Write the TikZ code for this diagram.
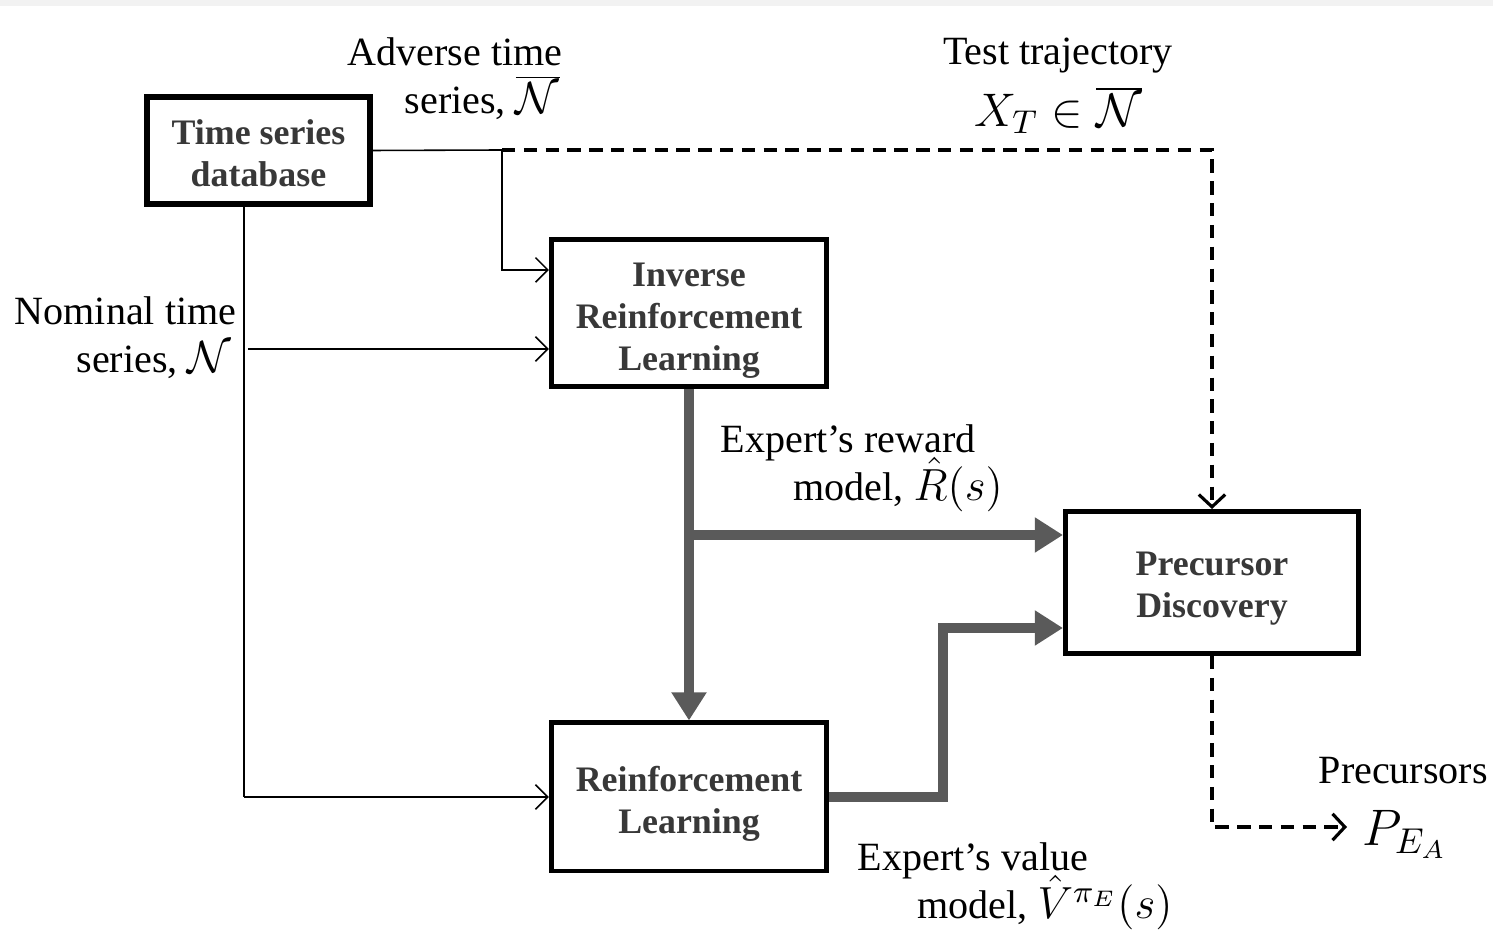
\RequirePackage{fix-cm}
\documentclass[tikz,border=0pt]{standalone}
\usepackage{fontspec}
\setmainfont{Liberation Serif}
\usetikzlibrary{arrows.meta,calc}
\definecolor{thickgray}{HTML}{5A5A5A}
\definecolor{boxtext}{HTML}{383838}
\definecolor{topband}{HTML}{F2F2F2}
\newcommand{\lmath}[1]{{\fontsize{12.8}{13.6}\selectfont\smash{$#1$}}}
\newcommand{\topstrut}[1][11pt]{\rule{0pt}{#1}}
\begin{document}
\begin{tikzpicture}[x=0.01cm,y=-0.01cm,
  box/.style={draw=black, line width=1.4pt, fill=white, inner sep=0pt, align=center,
    font=\fontsize{10.2}{11.9}\selectfont\bfseries, text=boxtext},
  lab/.style={inner sep=0pt, align=left, font=\fontsize{11.4}{13.6}\selectfont},
  feedline/.style={line width=0.45pt},
  feed/.style={line width=0.45pt, -{Straight Barb[length=3.5pt,width=7pt]}},
  dashline/.style={line width=0.9pt, dash pattern=on 3.8pt off 2.4pt,
    -{Straight Barb[length=3.5pt,width=7.5pt,line width=0.9pt]}},
  flow/.style={draw=thickgray, line width=2.9pt, -{Triangle[length=8pt,width=9.5pt]}}]
\useasboundingbox (0,0) rectangle (1493,934);
\fill[topband] (0,0) rectangle (1493,6);
% boxes
\node[box, line width=1.7pt, minimum width=2.22cm, minimum height=1.06cm] (tsdb) at (258.5,150.5) {\topstrut[8.8pt]Time series\\database};
\node[box, minimum width=2.75cm, minimum height=1.47cm] (irl) at (689,313) {\topstrut Inverse\\Reinforcement\\Learning};
\node[box, minimum width=2.75cm, minimum height=1.48cm] (rl) at (689,797) {\topstrut Reinforcement\\Learning};
\node[box, minimum width=2.93cm, minimum height=1.42cm] (pd) at (1212,582.5) {\topstrut[10pt]Precursor\\Discovery};
% junction coordinates
\coordinate (j1) at (502,150);
\coordinate (j2) at (244,797);
\coordinate (n0) at (248,349);
\coordinate (j3) at (689,535);
\coordinate (k) at (943,628);
\coordinate (pout) at (1347,827);
% thin connectors
\draw[feedline] (tsdb.east) -- (j1);
\draw[feed] (j1) |- ([yshift=0.43cm]irl.west);
\draw[dashline] (j1) -| (pd.north);
\draw[feedline] (tsdb.south -| j2) -- (j2);
\draw[feed] (j2) -- (rl.west);
\draw[feed] (n0) -- (irl.west |- n0);
% thick connectors
\draw[flow] (irl.south) -- (rl.north);
\draw[flow] (j3) -- (pd.west |- j3);
\draw[flow] (rl.east) -| (k) -- (pd.west |- k);
% output
\draw[dashline] (pd.south) |- (pout);
% labels
\node[lab, anchor=north west] (adv) at (347,37) {Adverse time\\\hspace*{16.2pt}series, \lmath{\overline{\mathcal{N}}}};
\node[lab, anchor=north, align=center] (test) at (1058,37) {Test trajectory\\[3pt]{\fontsize{13.4}{13.4}\selectfont$X_T\in\overline{\mathcal{N}}$}};
\node[lab, anchor=north west] (nom) at (14,296) {Nominal time\\\hspace*{17.6pt}series, \lmath{\mathcal{N}}};
\node[lab, anchor=north west] (rew) at (720,424) {Expert's reward\\\hspace*{20.7pt}model, \lmath{\hat{R}(s)}};
\node[lab, anchor=north west] (val) at (857,842) {Expert's value\\\hspace*{17pt}model, \lmath{\hat{V}^{\pi_E}(s)}};
\node[lab, anchor=north west] (prec) at (1318,757) {Precursors\\[4pt]\hspace*{12.5pt}{\fontsize{14.6}{14.6}\selectfont$P_{E_A}$}};
\end{tikzpicture}
\end{document}
